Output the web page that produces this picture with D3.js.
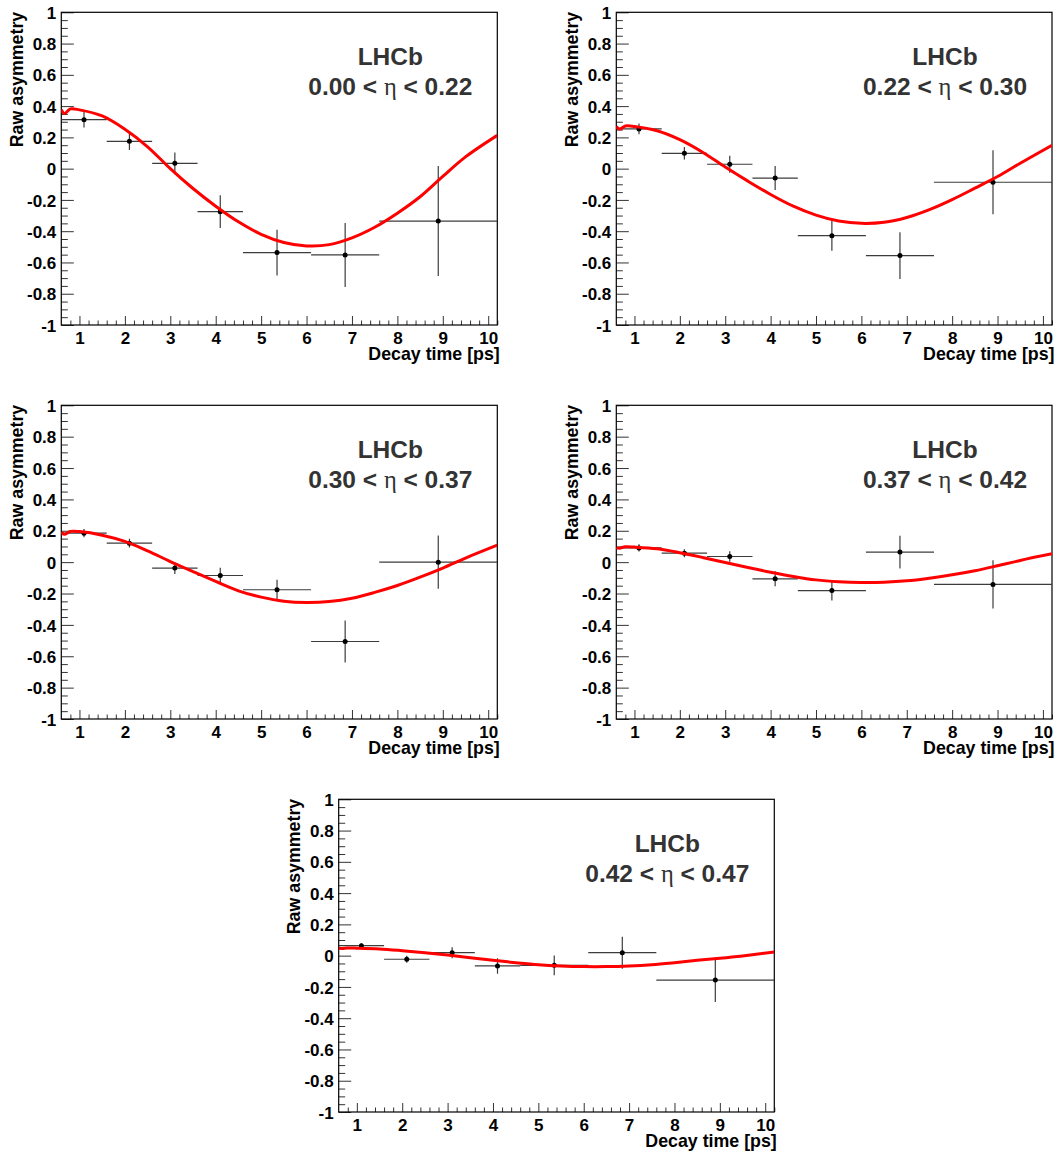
<!DOCTYPE html>
<html>
<head>
<meta charset="utf-8">
<script src="https://cdn.jsdelivr.net/npm/d3@7"></script>
<style>
  html, body { margin: 0; padding: 0; background: #fff; }
  svg { display: block; }
</style>
</head>
<body>
<svg id="chart" width="1059" height="1154"></svg>
<script>
// ---------------- DATA ----------------
const binEdges   = [0.6, 1.6, 2.6, 3.6, 4.6, 6.1, 7.6, 10.2];
const binCenters = [1.1, 2.1, 3.1, 4.1, 5.35, 6.85, 8.9];

const etaLow  = ["0.00", "0.22", "0.30", "0.37", "0.42"];
const etaHigh = ["0.22", "0.30", "0.37", "0.42", "0.47"];

const asym1 = [0.313, 0.175, 0.034, -0.275, -0.537, -0.552, -0.335];
const asym2 = [0.254, 0.098, 0.028, -0.060, -0.429, -0.556, -0.087];
const asym3 = [0.185, 0.121, -0.038, -0.085, -0.176, -0.506, 0.000];
const asym4 = [0.091, 0.057, 0.036, -0.106, -0.181, 0.064, -0.142];
const asym5 = [0.064, -0.023, 0.019, -0.066, -0.062, 0.019, -0.156];

const err1 = [0.050, 0.055, 0.070, 0.105, 0.146, 0.205, 0.352];
const err2 = [0.034, 0.040, 0.054, 0.077, 0.096, 0.149, 0.205];
const err3 = [0.026, 0.028, 0.037, 0.050, 0.064, 0.134, 0.170];
const err4 = [0.023, 0.025, 0.034, 0.048, 0.064, 0.104, 0.154];
const err5 = [0.016, 0.022, 0.035, 0.050, 0.063, 0.102, 0.141];

const fitTimes = [0.6, 0.67, 0.8, 1.0, 1.5, 2.0, 2.5, 3.0, 3.5, 4.0, 4.5, 5.0, 5.5, 6.0, 6.5, 7.0, 7.5, 8.0, 8.5, 9.0, 9.5, 10.2];
const fit1 = [0.378, 0.352, 0.382, 0.376, 0.337, 0.252, 0.140, 0.000, -0.127, -0.240, -0.340, -0.420, -0.472, -0.494, -0.486, -0.443, -0.375, -0.285, -0.180, -0.050, 0.075, 0.213];
const fit2 = [0.270, 0.253, 0.273, 0.270, 0.242, 0.185, 0.105, 0.010, -0.080, -0.165, -0.240, -0.297, -0.335, -0.350, -0.343, -0.312, -0.262, -0.198, -0.125, -0.050, 0.035, 0.150];
const fit3 = [0.189, 0.178, 0.196, 0.195, 0.172, 0.132, 0.072, 0.004, -0.060, -0.123, -0.183, -0.223, -0.249, -0.257, -0.251, -0.230, -0.193, -0.149, -0.096, -0.038, 0.026, 0.108];
const fit4 = [0.091, 0.089, 0.098, 0.096, 0.085, 0.060, 0.030, -0.002, -0.034, -0.064, -0.091, -0.113, -0.125, -0.130, -0.128, -0.119, -0.102, -0.081, -0.055, -0.023, 0.011, 0.053];
const fit5 = [0.047, 0.046, 0.049, 0.048, 0.043, 0.032, 0.019, 0.004, -0.013, -0.030, -0.045, -0.058, -0.066, -0.070, -0.070, -0.066, -0.058, -0.045, -0.030, -0.017, -0.002, 0.023];

const xMajorTicks = [1, 2, 3, 4, 5, 6, 7, 8, 9, 10];
const yMajorTicks = [-1, -0.8, -0.6, -0.4, -0.2, 0, 0.2, 0.4, 0.6, 0.8, 1];
const yTickLabels = ["-1", "-0.8", "-0.6", "-0.4", "-0.2", "0", "0.2", "0.4", "0.6", "0.8", "1"];

const xTitle = "Decay time [ps]";
const yTitle = "Raw asymmetry";
const expLabel = "LHCb";

const asymSets = [asym1, asym2, asym3, asym4, asym5];
const errSets  = [err1, err2, err3, err4, err5];
const fitSets  = [fit1, fit2, fit3, fit4, fit5];

// ---------------- LAYOUT ----------------
const frames = [
  {x0: 61.3,  x1: 497.3, y0: 12.3,  y1: 325},
  {x0: 616.3, x1: 1052,  y0: 12.3,  y1: 325},
  {x0: 61.3,  x1: 497.3, y0: 405.3, y1: 719},
  {x0: 616.3, x1: 1052,  y0: 405.3, y1: 719},
  {x0: 338.7, x1: 774.3, y0: 799.3, y1: 1112}
];

const svg = d3.select("#chart");
const mainFont = "'Liberation Sans', Arial, Helvetica, sans-serif";

const xMinor = d3.range(0.8, 10.21, 0.2).map(v => +v.toFixed(2)).filter(v => Math.abs(v - Math.round(v)) > 1e-6);
const yMinor = d3.range(-1, 1.001, 0.05).map(v => +v.toFixed(2)).filter(v => Math.abs(v*5 - Math.round(v*5)) > 1e-6);

frames.forEach((f, i) => {
  const x = d3.scaleLinear().domain([0.6, 10.2]).range([f.x0, f.x1]);
  const y = d3.scaleLinear().domain([-1, 1]).range([f.y1, f.y0]);
  const g = svg.append("g");

  const clipId = "clip" + i;
  svg.append("clipPath").attr("id", clipId)
    .append("rect").attr("x", f.x0).attr("y", f.y0)
    .attr("width", f.x1 - f.x0).attr("height", f.y1 - f.y0);

  // X axis ticks (inward, upward from bottom)
  const xAxisMajor = d3.axisBottom(x).tickValues(xMajorTicks).tickSize(-9).tickFormat(d => d3.format("d")(d));
  const xAxisMinor = d3.axisBottom(x).tickValues(xMinor).tickSize(-4.5).tickFormat("");
  const gxMin = g.append("g").attr("transform", `translate(0,${f.y1})`).call(xAxisMinor);
  const gx = g.append("g").attr("transform", `translate(0,${f.y1})`).call(xAxisMajor);
  [gx, gxMin].forEach(a => {
    a.select(".domain").remove();
    a.selectAll(".tick line").attr("stroke", "#333").attr("stroke-width", 1);
  });
  gx.selectAll(".tick text")
    .attr("y", 18.5).attr("dy", 0)
    .attr("fill", "#000")
    .style("font-family", mainFont).style("font-weight", "bold").style("font-size", "17px");

  // Y axis ticks (inward, to the right from left)
  const yAxisMajor = d3.axisLeft(y).tickValues(yMajorTicks).tickSize(-12.5)
      .tickFormat((d, k) => yTickLabels[k]);
  const yAxisMinor = d3.axisLeft(y).tickValues(yMinor).tickSize(-6.5).tickFormat("");
  const gyMin = g.append("g").attr("transform", `translate(${f.x0},0)`).call(yAxisMinor);
  const gy = g.append("g").attr("transform", `translate(${f.x0},0)`).call(yAxisMajor);
  [gy, gyMin].forEach(a => {
    a.select(".domain").remove();
    a.selectAll(".tick line").attr("stroke", "#333").attr("stroke-width", 1);
  });
  gy.selectAll(".tick text")
    .attr("x", -5).attr("dy", "0.36em")
    .attr("fill", "#000")
    .style("font-family", mainFont).style("font-weight", "bold").style("font-size", "17px");

  // Frame
  g.append("rect")
    .attr("x", f.x0).attr("y", f.y0)
    .attr("width", f.x1 - f.x0).attr("height", f.y1 - f.y0)
    .attr("fill", "none").attr("stroke", "#000").attr("stroke-width", 1.2);

  // Axis titles
  g.append("text")
    .attr("x", f.x1 + 2.5).attr("y", f.y1 + 34.5)
    .attr("text-anchor", "end")
    .style("font-family", mainFont).style("font-weight", "bold").style("font-size", "17.8px")
    .attr("fill", "#000")
    .text(xTitle);

  g.append("text")
    .attr("transform", `translate(${f.x0 - 38.5},${f.y0 - 0.5}) rotate(-90)`)
    .attr("text-anchor", "end")
    .style("font-family", mainFont).style("font-weight", "bold").style("font-size", "17.8px")
    .attr("fill", "#000")
    .text(yTitle);

  // Data points with error bars
  const vals = asymSets[i], errs = errSets[i];
  const pts = binCenters.map((c, k) => ({c, lo: binEdges[k], hi: binEdges[k+1], v: vals[k], e: errs[k]}));
  const pg = g.append("g").attr("clip-path", `url(#${clipId})`);
  pg.selectAll("line.h").data(pts).join("line").attr("class", "h")
    .attr("x1", d => x(d.lo)).attr("x2", d => x(d.hi))
    .attr("y1", d => y(d.v)).attr("y2", d => y(d.v))
    .attr("stroke", "#3c3c3c").attr("stroke-width", 1.2);
  pg.selectAll("line.v").data(pts).join("line").attr("class", "v")
    .attr("x1", d => x(d.c)).attr("x2", d => x(d.c))
    .attr("y1", d => y(d.v - d.e)).attr("y2", d => y(d.v + d.e))
    .attr("stroke", "#3c3c3c").attr("stroke-width", 1.2);
  pg.selectAll("circle").data(pts).join("circle")
    .attr("cx", d => x(d.c)).attr("cy", d => y(d.v)).attr("r", 2.5)
    .attr("fill", "#000");

  // Fit curve
  const fitData = fitTimes.map((t, k) => [t, fitSets[i][k]]);
  const line = d3.line().x(d => x(d[0])).y(d => y(d[1])).curve(d3.curveCatmullRom.alpha(0.5));
  g.append("path").attr("clip-path", `url(#${clipId})`)
    .datum(fitData)
    .attr("d", line)
    .attr("fill", "none").attr("stroke", "#ff0000").attr("stroke-width", 3)
    .attr("stroke-linejoin", "round");

  // Labels
  const cx = f.x1 - 107;
  g.append("text")
    .attr("x", cx).attr("y", f.y0 + 52.7)
    .attr("text-anchor", "middle")
    .style("font-family", mainFont).style("font-weight", "bold").style("font-size", "24.5px")
    .attr("fill", "#333")
    .text(expLabel);
  const t2 = g.append("text")
    .attr("x", cx).attr("y", f.y0 + 82.7)
    .attr("text-anchor", "middle")
    .style("font-family", mainFont).style("font-weight", "bold").style("font-size", "24.5px")
    .attr("fill", "#333");
  t2.append("tspan").text(etaLow[i] + " < ");
  t2.append("tspan").style("font-family", "'Liberation Serif', 'DejaVu Serif', serif")
    .style("font-weight", "normal").text("η");
  t2.append("tspan").text(" < " + etaHigh[i]);
});
</script>
</body>
</html>
